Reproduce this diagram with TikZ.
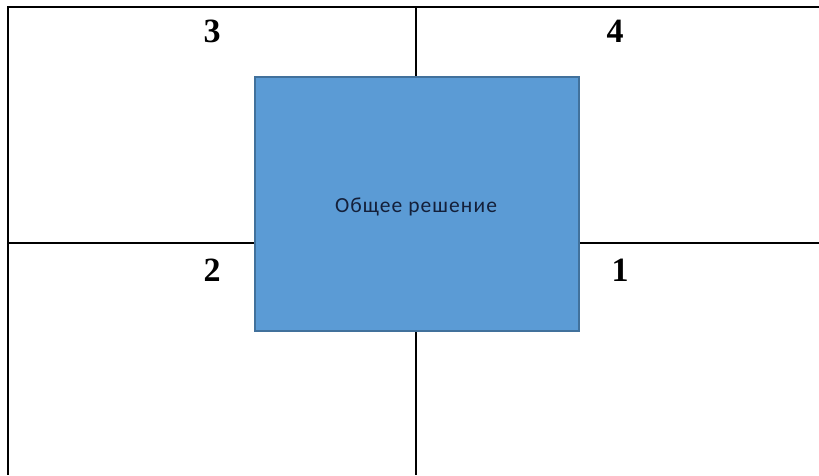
\documentclass[tikz,border=0pt]{standalone}
\usepackage{fontspec}
\setmainfont{Liberation Serif}
\newfontfamily\boxfont{Carlito}
\definecolor{boxfill}{HTML}{5B9BD5}
\definecolor{boxedge}{HTML}{41719C}
\definecolor{boxtext}{HTML}{14203A}
\begin{document}
\begin{tikzpicture}[x=1pt,y=-1pt,
  divider/.style={line width=2pt,black},
  quadlabel/.style={font=\fontsize{34}{34}\selectfont\bfseries,inner sep=0pt,anchor=center},
  mainbox/.style={draw=boxedge,line width=1.5pt,fill=boxfill,minimum width=324pt,minimum height=254pt,inner sep=0pt},
  boxlabel/.style={font=\boxfont\fontsize{21.5}{21.5}\selectfont,text=boxtext,inner sep=0pt}]
\useasboundingbox (0,0) rectangle (819,475);
\coordinate (tl) at (8,7);
\coordinate (tr) at (819,7);
\coordinate (bl) at (8,475);
\coordinate (vt) at (416,7);
\coordinate (vb) at (416,475);
\coordinate (hl) at (8,243);
\coordinate (hr) at (819,243);
\draw[divider] (tr) -- (tl) -- (bl);
\draw[divider] (vt) -- (vb);
\draw[divider] (hl) -- (hr);
\node[mainbox] (box) at (417,204) {};
\node[boxlabel] (boxtitle) at (416,207) {\addfontfeatures{LetterSpace=5}Общее решение};
\node[quadlabel] (l3) at (212,31) {3};
\node[quadlabel] (l4) at (615,31) {4};
\node[quadlabel] (l2) at (212,270) {2};
\node[quadlabel] (l1) at (620,270) {1};
\end{tikzpicture}
\end{document}
